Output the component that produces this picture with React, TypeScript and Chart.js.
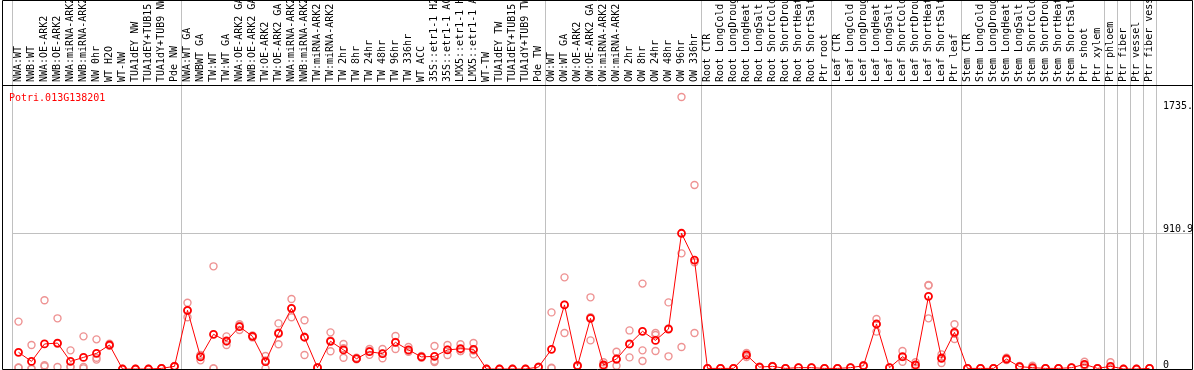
import React, { useEffect, useRef } from 'react';
import { Chart, registerables } from 'chart.js';

Chart.register(...registerables);

const geneId = 'Potri.013G138201';

const categories = [
  'NWA:WT', 'NWB:WT', 'NWA:OE-ARK2', 'NWB:OE-ARK2', 'NWA:miRNA-ARK2', 'NWB:miRNA-ARK2',
  'NW 0hr', 'WT H2O', 'WT-NW', 'TUA1dEY NW', 'TUA1dEY+TUB15 NW', 'TUA1dY+TUB9 NW', 'Pde NW',
  'NWA:WT GA', 'NWBWT GA', 'TW:WT', 'TW:WT GA', 'NWA:OE-ARK2 GA', 'NWB:OE-ARK2 GA',
  'TW:OE-ARK2', 'TW:OE-ARK2 GA', 'NWA:miRNA-ARK2', 'NWB:miRNA-ARK2', 'TW:miRNA-ARK2',
  'TW:miRNA-ARK2', 'TW 2hr', 'TW 8hr', 'TW 24hr', 'TW 48hr', 'TW 96hr', 'TW 336hr',
  'WT ACC', '35S::etr1-1 H2O', '35S::etr1-1 ACC', 'LMX5::etr1-1 H2O', 'LMX5::etr1-1 ACC',
  'WT-TW', 'TUA1dEY TW', 'TUA1dEY+TUB15 TW', 'TUA1dY+TUB9 TW', 'Pde TW',
  'OW:WT', 'OW:WT GA', 'OW:OE-ARK2', 'OW:OE-ARK2 GA', 'OW:miRNA-ARK2', 'OW:miRNA-ARK2',
  'OW 2hr', 'OW 8hr', 'OW 24hr', 'OW 48hr', 'OW 96hr', 'OW 336hr',
  'Root CTR', 'Root LongCold', 'Root LongDrought', 'Root LongHeat', 'Root LongSalt',
  'Root ShortCold', 'Root ShortDrought', 'Root ShortHeat', 'Root ShortSalt', 'Ptr root',
  'Leaf CTR', 'Leaf LongCold', 'Leaf LongDrought', 'Leaf LongHeat', 'Leaf LongSalt',
  'Leaf ShortCold', 'Leaf ShortDrought', 'Leaf ShortHeat', 'Leaf ShortSalt', 'Ptr leaf',
  'Stem CTR', 'Stem LongCold', 'Stem LongDrought', 'Stem LongHeat', 'Stem LongSalt',
  'Stem ShortCold', 'Stem ShortDrought', 'Stem ShortHeat', 'Stem ShortSalt',
  'Ptr shoot', 'Ptr xylem', 'Ptr phloem', 'Ptr fiber', 'Ptr vessel', 'Ptr fiber vessel',
];

// index of the first category of each group (a separator line is drawn before it)
const groupStarts = [0, 13, 41, 53, 63, 73, 84, 85, 86, 87];

const meanValues = [
  112, 51, 168, 174, 51, 78, 105, 161, 0, 0, 0, 4, 18,
  394, 81, 233, 188, 284, 219, 49, 239, 407, 213, 9, 186, 128, 69, 116, 103, 179, 128,
  81, 85, 128, 136, 132, 0, 0, 0, 0, 13,
  132, 430, 22, 340, 27, 67, 168, 253, 192, 268, 910.9, 731,
  4, 4, 4, 94, 13, 18, 4, 9, 9, 4,
  4, 9, 22, 302, 9, 83, 27, 488, 72, 246,
  4, 4, 4, 67, 16, 9, 4, 4, 9, 31, 4,
  18, 0, 0, 4,
];

const rep1 = [
  318, 161, 461, 340, 125, 219, 199, 170, 0, 0, 0, 6, 20,
  445, 94, 689, 219, 300, 225, 87, 306, 470, 327, 10, 246, 168, 75, 134, 134, 221, 148,
  87, 154, 161, 166, 174, 0, 0, 0, 0, 15,
  380, 615, 25, 481, 45, 116, 259, 573, 242, 447, 1825, 1235,
  4, 4, 4, 107, 15, 20, 4, 9, 9, 4,
  4, 9, 25, 336, 9, 121, 45, 564, 98, 300,
  4, 4, 4, 76, 20, 22, 4, 4, 9, 49, 4,
  45, 0, 0, 4,
];

const rep2 = [
  10, 4, 18, 13, 13, 13, 76, 160, 0, 0, 0, 2, 15,
  347, 58, 4, 161, 291, 212, 4, 166, 347, 94, 8, 119, 76, 65, 121, 72, 134, 116,
  75, 47, 94, 121, 98, 0, 0, 0, 0, 10,
  9, 242, 18, 192, 22, 22, 78, 125, 228, 85, 776, 242,
  4, 4, 4, 81, 10, 15, 4, 9, 9, 4,
  4, 9, 18, 251, 9, 49, 27, 340, 40, 201,
  4, 4, 4, 60, 12, 4, 4, 4, 9, 18, 4,
  4, 0, 0, 4,
];

const rep3 = [
  8, 0, 25, 170, 15, 4, 63, 155, 0, 0, 0, 4, 18,
  390, 90, 4, 184, 262, 220, 57, 246, 405, 217, 9, 192, 139, 68, 95, 103, 182, 120,
  81, 54, 129, 121, 124, 0, 0, 0, 0, 14,
  5, 432, 22, 347, 14, 63, 166, 54, 121, 272, 148, 716,
  4, 4, 4, 94, 13, 18, 4, 9, 9, 4,
  4, 9, 22, 300, 9, 80, 9, 560, 78, 237,
  4, 4, 4, 65, 16, 2, 4, 4, 9, 27, 4,
  5, 0, 0, 4,
];

const yTicks = [0, 910.9, 1735.4];
const yGridTicks = [910.9];
const yMax = 1906;

const RED = '#ff0000';
const PINK = 'rgb(238,146,146)';
const GRID = '#c0c0c0';
const FONT_FAMILY = 'DejaVu Sans Mono';

const framePlugin = {
  id: 'frameAndTitle',
  afterDraw(chart: any) {
    const { ctx, width, chartArea } = chart;
    ctx.save();
    ctx.strokeStyle = '#000';
    ctx.lineWidth = 1;
    ctx.beginPath();
    ctx.moveTo(2.5, 0.5);
    ctx.lineTo(width - 1.5, 0.5);
    ctx.lineTo(width - 1.5, chartArea.bottom + 0.5);
    ctx.lineTo(2.5, chartArea.bottom + 0.5);
    ctx.closePath();
    ctx.moveTo(2.5, chartArea.top + 0.5);
    ctx.lineTo(width - 1.5, chartArea.top + 0.5);
    ctx.stroke();
    ctx.fillStyle = RED;
    ctx.font = `10px "${FONT_FAMILY}"`;
    ctx.textBaseline = 'alphabetic';
    ctx.textAlign = 'left';
    ctx.fillText(geneId, chartArea.left - 3, chartArea.top + 16);
    ctx.restore();
  },
};

export default function App() {
  const canvasRef = useRef<HTMLCanvasElement | null>(null);

  useEffect(() => {
    if (!canvasRef.current) return;
    const pointCommon = {
      showLine: false,
      pointRadius: 3.5,
      pointBorderWidth: 1.4,
      pointBorderColor: PINK,
      pointBackgroundColor: 'rgba(0,0,0,0)',
      borderColor: PINK,
      clip: false,
    };
    const chart = new Chart(canvasRef.current, {
      type: 'line',
      data: {
        labels: categories,
        datasets: [
          {
            label: 'mean',
            data: meanValues,
            borderColor: RED,
            borderWidth: 1,
            pointRadius: 3.5,
            pointBorderWidth: 1.8,
            pointBorderColor: RED,
            pointBackgroundColor: 'rgba(0,0,0,0)',
            tension: 0,
            clip: false,
          },
          { label: 'rep 1', data: rep1, ...pointCommon },
          { label: 'rep 2', data: rep2, ...pointCommon },
          { label: 'rep 3', data: rep3, ...pointCommon },
        ],
      },
      options: {
        animation: false,
        responsive: false,
        devicePixelRatio: 1,
        events: [],
        layout: { autoPadding: false, padding: { left: 12, right: 1, top: 0, bottom: 1 } },
        plugins: {
          legend: { display: false },
          tooltip: { enabled: false },
          title: { display: false },
        },
        scales: {
          x: {
            type: 'category',
            position: 'top',
            offset: true,
            grid: {
              offset: true,
              drawTicks: true,
              tickLength: 85,
              lineWidth: 1,
              color: (ctx: any) =>
                ctx.type !== 'tick' || groupStarts.includes(ctx.index) ? GRID : 'rgba(0,0,0,0)',
            },
            border: { display: false },
            ticks: {
              autoSkip: false,
              minRotation: 90,
              maxRotation: 90,
              padding: -82,
              labelOffset: 12,
              color: '#000',
              font: { family: FONT_FAMILY, size: 10 },
            },
            afterFit: (s: any) => {
              s.height = 85;
              s.paddingLeft = 0;
              s.paddingRight = 0;
            },
          },
          y: {
            type: 'linear',
            position: 'right',
            min: 0,
            max: yMax,
            afterBuildTicks: (s: any) => {
              s.ticks = yTicks.map((v) => ({ value: v }));
            },
            grid: {
              drawTicks: true,
              tickLength: 37,
              lineWidth: 1,
              color: (ctx: any) =>
                ctx.tick && yGridTicks.includes(ctx.tick.value) ? GRID : 'rgba(0,0,0,0)',
            },
            border: { display: false },
            ticks: {
              padding: -30,
              labelOffset: -4,
              color: '#000',
              font: { family: FONT_FAMILY, size: 10 },
              callback: (v: any) => String(v),
            },
            afterFit: (s: any) => {
              s.width = 37;
              s.paddingTop = 0;
              s.paddingBottom = 0;
            },
          },
        },
      },
      plugins: [framePlugin],
    } as any);
    return () => chart.destroy();
  }, []);

  return (
    <div style={{ position: 'fixed', left: 0, top: 0, width: 1194, height: 370, background: '#fff' }}>
      <canvas ref={canvasRef} width={1194} height={370} style={{ display: 'block' }} />
    </div>
  );
}
